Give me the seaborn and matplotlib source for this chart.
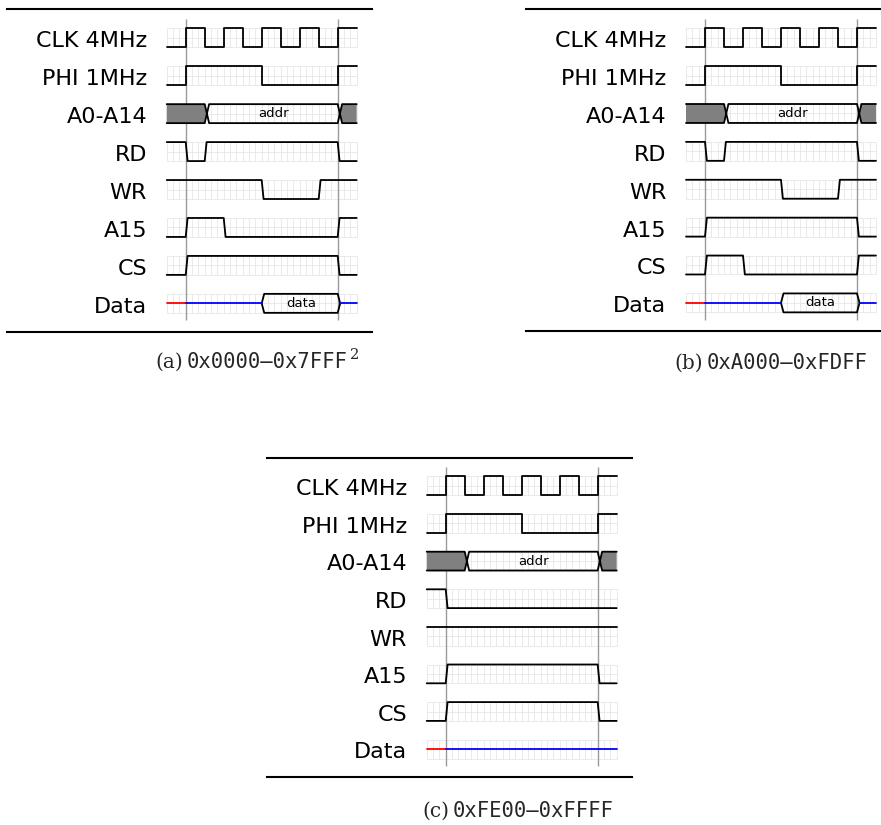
import numpy as np
import pandas as pd
import matplotlib
matplotlib.use("Agg")
import matplotlib.pyplot as plt
import seaborn as sns

sns.set_theme(style="white")
plt.rcParams["font.family"] = ["DejaVu Sans"]

# ---------------- data ----------------
signal_names = ["CLK 4MHz", "PHI 1MHz", "A0-A14", "RD", "WR", "A15", "CS", "Data"]
caption_letters = ["(a)", "(b)", "(c)"]
caption_ranges = ["0x0000–0x7FFF", "0xA000–0xFDFF", "0xFE00–0xFFFF"]
caption_marks = ["2", "", ""]

t_end = 30
marker_times = [3, 27]

clk_init = 0
clk_edges = [3, 6, 9, 12, 15, 18, 21, 24, 27]
phi_init = 0
phi_edges = [3, 15, 27]

addr_bus = [(0, 6, "U"), (6, 27, "D"), (27, 30, "U")]
addr_text = "addr"
data_text = "data"

rd_init = [1, 1, 1]
rd_edges = [[3, 6, 27], [3, 6, 27], [3]]
wr_init = [1, 1, 1]
wr_edges = [[15, 24], [15, 24], []]
a15_init = [0, 0, 0]
a15_edges = [[3, 9, 27], [3, 27], [3, 27]]
cs_init = [0, 0, 0]
cs_edges = [[3, 27], [3, 9, 27], [3, 27]]
data_bus = [
    [(0, 3, "X"), (3, 15, "Z"), (15, 27, "D"), (27, 30, "Z")],
    [(0, 3, "X"), (3, 15, "Z"), (15, 27, "D"), (27, 30, "Z")],
    [(0, 3, "X"), (3, 30, "Z")],
]

# ---------------- style / layout ----------------
W, H = 881, 825
SLOPE = 0.3      # edge slope for control signals
CROSS = 0.7      # bus X crossing width
HALF = 0.4       # Z <-> D opening width
panel_boxes = [  # left, top, width, height in px
    (7.0, 9.3, 365.0, 322.5),
    (526.3, 9.3, 365.0, 322.0),
    (267.0, 457.7, 365.0, 319.6),
]
caption_pos = [  # x of range text, baseline y
    (186.7, 368),
    (707.0, 369),
    (452.7, 817),
]
XLIM = (-25.22, 32.42)
LW = 1.3
GRID_C = "#e6e6e6"
colors = {"sig": "black", "Z": "#0000ff", "X": "#ff0000"}


def digital(init, edges, slope):
    pts = [(0, init)]
    lvl = init
    for e in edges:
        pts.append((e, lvl))
        lvl = 1 - lvl
        pts.append((e + slope, lvl))
    pts.append((t_end, lvl))
    return pts


def bus_shapes(segs):
    out = []
    n = len(segs)
    for i, (s, e, k) in enumerate(segs):
        prev = segs[i - 1][2] if i > 0 else None
        nxt = segs[i + 1][2] if i < n - 1 else None
        if k in ("D", "U"):
            top, bot = [], []
            if prev is None:
                top.append((s, 1)); bot.append((s, 0))
            elif prev in ("D", "U"):
                top += [(s + CROSS / 2, 0.5), (s + CROSS, 1)]
                bot += [(s + CROSS / 2, 0.5), (s + CROSS, 0)]
            else:
                top += [(s, 0.5), (s + HALF, 1)]
                bot += [(s, 0.5), (s + HALF, 0)]
            if nxt is None:
                top.append((e, 1)); bot.append((e, 0))
            elif nxt in ("D", "U"):
                top += [(e, 1), (e + CROSS / 2, 0.5)]
                bot += [(e, 0), (e + CROSS / 2, 0.5)]
            else:
                top += [(e, 1), (e + HALF, 0.5)]
                bot += [(e, 0), (e + HALF, 0.5)]
            lx = (top[1][0] + top[-2][0]) / 2 if len(top) > 2 else (s + e) / 2
            out.append((k, top, bot, lx))
        else:
            x0 = s + HALF if prev in ("D", "U") else s
            out.append((k, [(x0, 0.5), (e, 0.5)], None, None))
    return out


fig = plt.figure(figsize=(W / 100, H / 100), dpi=100)
renderer = fig.canvas.get_renderer()

for p in range(3):
    L, T, Wd, Ht = panel_boxes[p]
    ax = fig.add_axes([L / W, 1 - (T + Ht) / H, Wd / W, Ht / H])
    ax.set_facecolor("none")
    for side in ("left", "right"):
        ax.spines[side].set_visible(False)
    for side in ("top", "bottom"):
        ax.spines[side].set_color("black")
        ax.spines[side].set_linewidth(1.5)

    for k in range(len(signal_names)):
        y0 = 1 + 2 * k
        ax.hlines([y0, y0 + 0.5, y0 + 1], 0, t_end, color=GRID_C, lw=0.6, zorder=1)
        ax.vlines(np.arange(0, t_end + 1), y0, y0 + 1, color=GRID_C, lw=0.6, zorder=1)
        ax.text(-3.1, y0 + 1, signal_names[k], ha="right", va="baseline",
                fontsize=16, color="black")

    ax.vlines(marker_times, 0.5, 16.4, color="#9a9a9a", lw=1.0, zorder=1.5)

    rows = []
    counter = [0]

    def add(pts, k, kind):
        for t, lvl in pts:
            rows.append({"t": t, "y": 1 + 2 * k + (1 - lvl), "seg": counter[0], "kind": kind})
        counter[0] += 1

    add(digital(clk_init, clk_edges, 0.0), 0, "sig")
    add(digital(phi_init, phi_edges, 0.0), 1, "sig")
    add(digital(rd_init[p], rd_edges[p], SLOPE), 3, "sig")
    add(digital(wr_init[p], wr_edges[p], SLOPE), 4, "sig")
    add(digital(a15_init[p], a15_edges[p], SLOPE), 5, "sig")
    add(digital(cs_init[p], cs_edges[p], SLOPE), 6, "sig")

    for k, segs, label in ((2, addr_bus, addr_text), (7, data_bus[p], data_text)):
        for kind, top, bot, lx in bus_shapes(segs):
            if bot is None:
                add(top, k, kind)
                continue
            add(top, k, "sig")
            add(bot, k, "sig")
            if kind == "U":
                poly = top + bot[::-1]
                ax.fill([q[0] for q in poly], [1 + 2 * k + (1 - q[1]) for q in poly],
                        color="#808080", lw=0, zorder=1.8)
            else:
                ax.text(lx, 1 + 2 * k + 0.5, label, ha="center", va="center",
                        fontsize=9.5, color="black", zorder=4)

    df = pd.DataFrame(rows)
    sns.lineplot(data=df, x="t", y="y", units="seg", hue="kind", palette=colors,
                 estimator=None, sort=False, legend=False, lw=LW, ax=ax, zorder=3)
    ax.set_xlabel(""); ax.set_ylabel("")
    ax.set_xticks([]); ax.set_yticks([])
    ax.set_xlim(*XLIM)
    ax.set_ylim(17, 0)

    # caption
    xr, yb = caption_pos[p]
    fig.text((xr - 3.5) / W, 1 - yb / H, caption_letters[p], ha="right", va="baseline",
             fontsize=14.5, family="DejaVu Serif")
    rt = fig.text(xr / W, 1 - yb / H, caption_ranges[p], ha="left", va="baseline",
                  fontsize=14.8, family="DejaVu Sans Mono")
    if caption_marks[p]:
        ext = rt.get_window_extent(renderer)
        fig.text((ext.x1 + 2) / W, 1 - (yb - 9) / H, caption_marks[p], ha="left",
                 va="baseline", fontsize=10.5, family="DejaVu Serif")

fig.savefig("out.png", dpi=100)
